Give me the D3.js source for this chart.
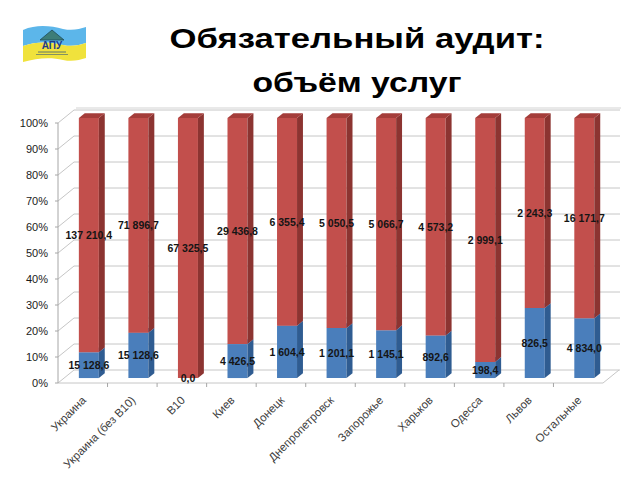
<!DOCTYPE html>
<meta charset="utf-8">
<style>body{margin:0;background:#fff}</style>
<svg width="640" height="480"></svg>
<script src="https://cdn.jsdelivr.net/npm/d3@7/dist/d3.min.js"></script>
<script>

// Data
var categories = ["Украина", "Украина (без В10)", "В10", "Киев", "Донецк", "Днепропетровск",
                  "Запорожье", "Харьков", "Одесса", "Львов", "Остальные"];
var blueValues = [15128.6, 15128.6, 0.0, 4426.5, 1604.4, 1201.1, 1145.1, 892.6, 198.4, 826.5, 4834.0];
var redValues  = [137210.4, 71896.7, 67325.5, 29436.8, 6355.4, 5050.5, 5066.7, 4573.2, 2999.1, 2243.3, 16171.7];
var yTicks = [0, 0.1, 0.2, 0.3, 0.4, 0.5, 0.6, 0.7, 0.8, 0.9, 1];
var titleLines = ["Обязательный аудит:", "объём услуг"];

var svg = d3.select("svg");

// front plane of the 3D box, depth vector goes up-right
var x = d3.scaleBand().domain(categories).range([58, 603]),
    y = d3.scaleLinear().domain([0, 1]).range([383, 123]),
    depth = {dx: 16, dy: -13};

var fmt = d3.formatLocale({decimal: ",", thousands: " ", grouping: [3]}).format(",.1f"),
    pct = d3.format(".0%");

// Title
svg.append("line")
    .attr("x1", 76).attr("x2", 621).attr("y1", 108).attr("y2", 108)
    .attr("stroke", "#e2e2e2").attr("stroke-width", 1.5);

svg.selectAll(".title")
    .data(titleLines)
  .enter().append("text")
    .attr("class", "title")
    .attr("x", 357)
    .attr("y", function(d, i) { return 48 + i * 44; })
    .attr("text-anchor", "middle")
    .attr("font-family", "Liberation Sans, Arial, sans-serif")
    .attr("font-weight", "bold")
    .attr("font-size", 28)
    .attr("textLength", function(d, i) { return i ? 209 : 375; })
    .attr("lengthAdjust", "spacingAndGlyphs")
    .attr("fill", "#000")
    .text(function(d) { return d; });

// Logo (little waving flag)
var logo = svg.append("g").attr("transform", "translate(23,25)");
logo.append("path")
    .attr("d", "M0,5 C14,-1 28,1 40,4 C50,6 56,4 63,2 L63,18 C56,20 50,22 40,20 C28,17 14,16 0,21 Z")
    .attr("fill", "#5cb6ea");
logo.append("path")
    .attr("d", "M0,21 C14,16 28,17 40,20 C50,22 56,20 63,18 L63,33 C56,35 50,37 40,35 C28,32 14,33 0,37 Z")
    .attr("fill", "#f0e23c");
logo.append("path")
    .attr("d", "M17,15 L29,5 L41,15 Z")
    .attr("fill", "#3d7d78").attr("stroke", "#1d4b5a").attr("stroke-width", 0.8);
logo.append("text")
    .attr("x", 29).attr("y", 24)
    .attr("text-anchor", "middle")
    .attr("font-family", "Liberation Sans, Arial, sans-serif")
    .attr("font-weight", "bold").attr("font-size", 10)
    .attr("fill", "#1e3c8c")
    .text("АПУ");
logo.append("line")
    .attr("x1", 15).attr("x2", 43).attr("y1", 27).attr("y2", 27)
    .attr("stroke", "#3b5a7a").attr("stroke-width", 0.8);
logo.append("line")
    .attr("x1", 13).attr("x2", 45).attr("y1", 29.5).attr("y2", 29.5)
    .attr("stroke", "#3b5a7a").attr("stroke-width", 0.6);

var g = svg.append("g");

// Back wall gridlines (incl. floor back edge)
g.selectAll(".grid")
    .data(yTicks)
  .enter().append("polyline")
    .attr("fill", "none")
    .attr("stroke", "#c6c6c6")
    .attr("points", function(d) {
      var yy = y(d);
      return [[58, yy], [58 + depth.dx, yy + depth.dy], [620, yy + depth.dy]].join(" ");
    });

// floor front and right edge
g.append("polyline")
    .attr("fill", "none").attr("stroke", "#c6c6c6")
    .attr("points", [[58, y(0)], [603, y(0)], [603 + depth.dx, y(0) + depth.dy]].join(" "));

// Y axis
g.append("line")
    .attr("x1", 58).attr("x2", 58).attr("y1", y(1)).attr("y2", y(0))
    .attr("stroke", "#a6a6a6");
g.selectAll(".ytick")
    .data(yTicks)
  .enter().append("line")
    .attr("x1", 55).attr("x2", 58)
    .attr("y1", function(d) { return y(d); }).attr("y2", function(d) { return y(d); })
    .attr("stroke", "#a6a6a6");
g.selectAll(".ylab")
    .data(yTicks)
  .enter().append("text")
    .attr("x", 48)
    .attr("y", function(d) { return y(d); })
    .attr("dy", "0.35em")
    .attr("text-anchor", "end")
    .attr("font-family", "Liberation Sans, Arial, sans-serif")
    .attr("font-size", 11)
    .attr("fill", "#1a1a1a")
    .text(function(d) { return pct(d); });

// X ticks on the floor edge
g.selectAll(".xtick")
    .data(categories.slice(1))
  .enter().append("line")
    .attr("x1", function(d) { return x(d); }).attr("x2", function(d) { return x(d); })
    .attr("y1", y(0)).attr("y2", y(0) + 4)
    .attr("stroke", "#a6a6a6");

// X labels
g.selectAll(".xlab")
    .data(categories)
  .enter().append("text")
    .attr("transform", function(d) {
      return "translate(" + (x(d) + x.bandwidth() / 2 + 4) + "," + (y(0) + 18) + ") rotate(-45)";
    })
    .attr("text-anchor", "end")
    .attr("font-family", "Liberation Sans, Arial, sans-serif")
    .attr("font-size", 11.5)
    .attr("fill", "#404040")
    .text(function(d) { return d; });

// Stacked 100% 3D columns
var d0 = 0.38, d1 = 0.75, barW = 20;
var ox = depth.dx * d0, oy = depth.dy * d0,
    sx = depth.dx * (d1 - d0), sy = depth.dy * (d1 - d0);

var rows = categories.map(function(c, i) {
  var total = blueValues[i] + redValues[i];
  return [
    {cat: c, lo: 0, hi: blueValues[i] / total, v: blueValues[i], front: "#4a7ebb", side: "#2f5c91", top: "#6d99cf"},
    {cat: c, lo: blueValues[i] / total, hi: 1, v: redValues[i], front: "#c24f4c", side: "#8c3431", top: "#a43d3a"}
  ];
});

var segs = g.selectAll(".seg")
    .data(d3.merge(rows))
  .enter().append("g");

function bx(d) { return x(d.cat) + (x.bandwidth() - barW) / 2 + ox; }

segs.filter(function(d) { return d.hi > d.lo; }).each(function(d) {
  var s = d3.select(this),
      xa = bx(d), xb = xa + barW,
      yt = y(d.hi) + oy, yb = y(d.lo) + oy;
  s.append("polygon")
      .attr("points", [[xa, yt], [xb, yt], [xb, yb], [xa, yb]].join(" "))
      .attr("fill", d.front);
  s.append("polygon")
      .attr("points", [[xb, yt], [xb + sx, yt + sy], [xb + sx, yb + sy], [xb, yb]].join(" "))
      .attr("fill", d.side);
  s.append("polygon")
      .attr("points", [[xa, yt], [xb, yt], [xb + sx, yt + sy], [xa + sx, yt + sy]].join(" "))
      .attr("fill", d.top);
});

// Value labels at segment middles
g.selectAll(".val")
    .data(d3.merge(rows))
  .enter().append("text")
    .attr("x", function(d) { return bx(d) + barW / 2; })
    .attr("y", function(d) { return y((d.lo + d.hi) / 2) + oy; })
    .attr("dy", "0.35em")
    .attr("text-anchor", "middle")
    .attr("font-family", "Liberation Sans, Arial, sans-serif")
    .attr("font-weight", "bold")
    .attr("font-size", 10.5)
    .attr("fill", "#151515")
    .text(function(d) { return fmt(d.v); });

</script>
